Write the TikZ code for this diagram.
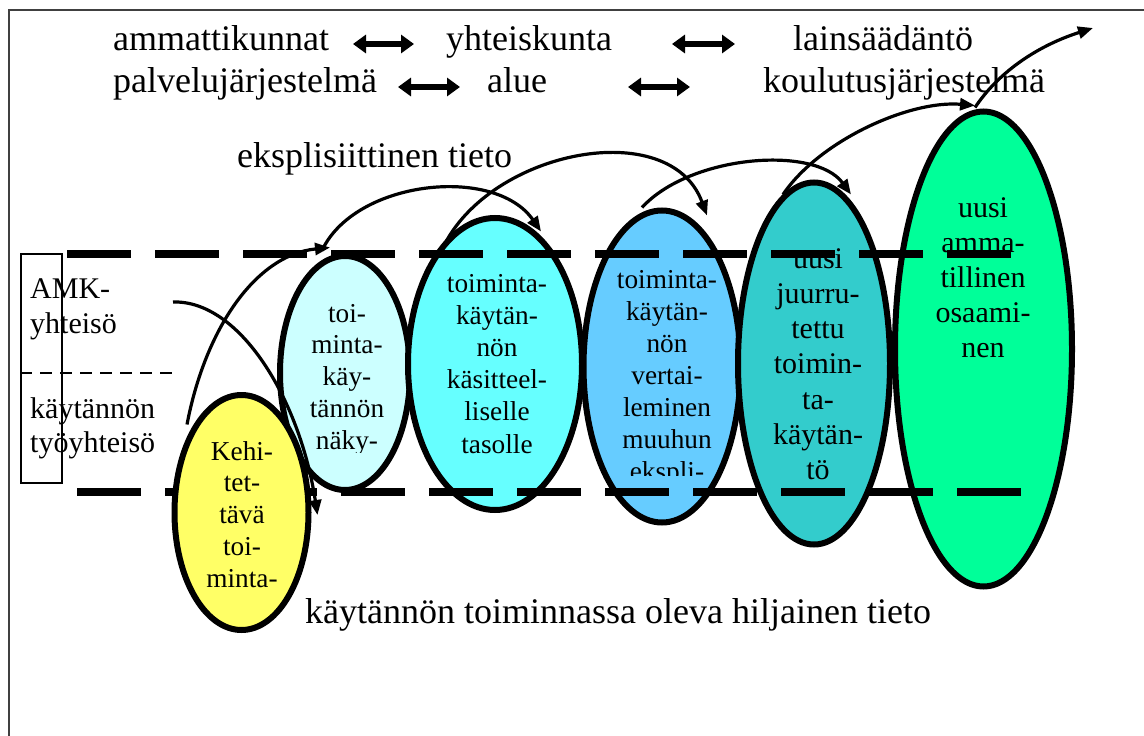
\documentclass[tikz,border=0pt]{standalone}
\usepackage{fontspec}
\setmainfont{Liberation Serif}
\usetikzlibrary{shapes.geometric,arrows.meta,calc}
\pgfdeclarelayer{front}
\pgfsetlayers{main,front}
\definecolor{cYel}{HTML}{FFFF66}
\definecolor{cLc}{HTML}{CCFFFF}
\definecolor{cCy}{HTML}{66FFFF}
\definecolor{cBl}{HTML}{66CCFF}
\definecolor{cTe}{HTML}{33CCCC}
\definecolor{cGr}{HTML}{00FF99}
\definecolor{framecol}{HTML}{404040}
\newcommand\fbig{\fontsize{36}{40}\selectfont}
\newcommand\fmid{\fontsize{30}{35}\selectfont}
\newcommand\fsm{\fontsize{27.3}{32}\selectfont}
\newcommand\stk[2]{\vtop{\baselineskip=#1\lineskiplimit=-100pt\lineskip=0pt\halign{\hfil##\hfil\cr#2\crcr}}}
\newcommand\stkl[2]{\vtop{\baselineskip=#1\lineskiplimit=-100pt\lineskip=0pt\halign{##\hfil\cr#2\crcr}}}
\begin{document}
\begin{tikzpicture}[x=1pt,y=-1pt,
  ell/.style={ellipse, draw, line width=6pt, inner sep=0pt},
  arc/.style={line width=3.2pt, -{Triangle[length=15pt,width=12pt]}},
  dbl/.style={line width=5.5pt, {Triangle[length=13pt,width=18pt]}-{Triangle[length=13pt,width=18pt]}},
  bigdash/.style={line width=8pt, dash pattern=on 64pt off 24pt},
  lbl/.style={anchor=base west, inner sep=0pt, font=\fbig},
  etext/.style={anchor=base, inner sep=0pt}]
\useasboundingbox (0,0) rectangle (1144,736);
% frame
\draw[line width=2pt, framecol] (9,740) -- (9,10) -- (1150,10);
% top labels
\node[lbl] (amm)  at (113,50) {ammattikunnat};
\node[lbl] (yht)  at (446,50) {yhteiskunta};
\node[lbl] (lain) at (793,50) {lainsäädäntö};
\node[lbl] (palv) at (113,92) {palvelujärjestelmä};
\node[lbl] (alue) at (487,92) {alue};
\node[lbl] (koul) at (763,92) {koulutusjärjestelmä};
\coordinate (d1a) at (353,44); \coordinate (d1b) at (414,44);
\coordinate (d2a) at (672,44); \coordinate (d2b) at (735,44);
\coordinate (d3a) at (398,87); \coordinate (d3b) at (460,87);
\coordinate (d4a) at (628,87); \coordinate (d4b) at (690,87);
\draw[dbl] (d1a) -- (d1b);
\draw[dbl] (d2a) -- (d2b);
\draw[dbl] (d3a) -- (d3b);
\draw[dbl] (d4a) -- (d4b);
\node[lbl] (ekspl) at (237,167) {eksplisiittinen tieto};
% left box
\node[draw, line width=1.3pt, minimum width=41pt, minimum height=229pt, inner sep=0pt] (amkbox) at (41.5,368.5) {};
\node[anchor=base west, inner sep=0pt, font=\fmid] (amk) at (30,298) {\stkl{35.5pt}{AMK-\cr yhteisö}};
\node[anchor=base west, inner sep=0pt, font=\fmid] (kayt) at (30,418) {\stkl{34.5pt}{käytännön\cr työyhteisö}};
\coordinate (divR) at (178,373);
\draw[line width=1.3pt, dash pattern=on 12pt off 8pt] (amkbox.west |- divR) -- (divR);
% ellipses 2..6
\node[ell, fill=cLc, minimum width=130pt, minimum height=234pt] (e2) at (345,373) {};
\node[ell, fill=cCy, minimum width=174pt, minimum height=292pt] (e3) at (495,364) {};
\node[ell, fill=cBl, minimum width=157pt, minimum height=312pt] (e4) at (662,366.5) {};
\node[ell, fill=cTe, minimum width=152pt, minimum height=362pt] (e5) at (814,363.5) {};
\node[ell, fill=cGr, minimum width=177pt, minimum height=475pt] (e6) at (983.5,349) {};
\begin{scope}
\clip (250,240) rectangle (450,452);
\node[etext, font=\fsm] (t2) at (347,322) {\stk{31.8pt}{toi-\cr minta-\cr käy-\cr tännön\cr näky-}};
\end{scope}
\node[etext, font=\fsm] (t3) at (497,292) {\stk{32.2pt}{toiminta-\cr käytän-\cr nön\cr käsitteel-\cr liselle\cr tasolle}};
\begin{scope}
\clip (580,240) rectangle (760,475);
\node[etext, font=\fsm] (t4) at (667,288) {\stk{32pt}{toiminta-\cr käytän-\cr nön\cr vertai-\cr leminen\cr muuhun\cr ekspli-}};
\end{scope}
\node[etext, font=\fmid] (t5) at (818,268) {\stk{35.3pt}{uusi\cr juurru-\cr tettu\cr toimin-\cr ta-\cr käytän-\cr tö}};
\node[etext, font=\fmid] (t6) at (983,217) {\stk{35pt}{uusi\cr amma-\cr tillinen\cr osaami-\cr nen}};
% yellow ellipse in front layer
\begin{pgfonlayer}{front}
\node[ell, fill=cYel, minimum width=134pt, minimum height=235pt] (e1) at (241.5,512.5) {};
\node[etext, font=\fsm] (t1) at (242,460) {\stk{31.8pt}{Kehi-\cr tet-\cr tävä\cr toi-\cr minta-}};
\end{pgfonlayer}
% thin arcs
\coordinate (amkend) at (173,302);
\coordinate (out) at (1093,28);
\draw[arc] ($(e1.north)+(-54.5,32.5)$) .. controls (205,330) and (255,255) .. ($(e2.north)+(-15,-5.5)$);
\draw[arc] ($(e2.north)+(-23,-2.5)$) .. controls (355,180) and (495,165) .. ($(e3.north)+(46,16.5)$);
\draw[arc] ($(e3.north)+(-52,32.5)$) .. controls (490,150) and (670,115) .. ($(e4.north)+(45,8)$);
\draw[arc] ($(e4.north)+(-20,0)$) .. controls (690,155) and (815,145) .. ($(e5.north)+(37,15)$);
\draw[arc] ($(e5.north)+(-31,15)$) .. controls (820,140) and (910,100) .. ($(e6.north)+(-8.5,-3)$);
\draw[arc] ($(e6.north)+(-8.5,-1)$) .. controls (1000,70) and (1040,45) .. (out);
\draw[arc] (amkend) .. controls (240,300) and (300,400) .. ($(e1.east)+(6,2.5)$);
% big dashed lines
\coordinate (topL) at (67,254); \coordinate (topR) at (1012,254);
\coordinate (botL) at (77,492); \coordinate (botR) at (1022,492);
\draw[bigdash] (topL) -- (topR);
\draw[bigdash] (botL) -- (botR);
% bottom label
\node[lbl] (hilj) at (305,623) {käytännön toiminnassa oleva hiljainen tieto};
\end{tikzpicture}
\end{document}
